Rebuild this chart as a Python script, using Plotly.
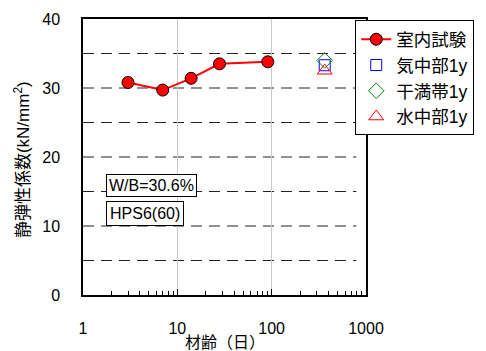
import plotly.graph_objects as go

age_days = [3, 7, 14, 28, 91]
lab_E = [30.8, 29.7, 31.4, 33.5, 33.8]
field_age = [365]
air_E = [33.3]
tidal_E = [34.0]
water_E = [32.5]

FONT = "Liberation Sans, Arial, Noto Sans CJK JP, sans-serif"

fig = go.Figure()
fig.add_trace(go.Scatter(x=age_days, y=lab_E, mode="lines+markers", name="室内試験",
                         line=dict(color="#ff0000", width=2),
                         marker=dict(symbol="circle", size=12, color="#ff0000",
                                     line=dict(color="black", width=1))))
fig.add_trace(go.Scatter(x=field_age, y=air_E, mode="markers", name="気中部1y",
                         marker=dict(symbol="square-open", size=11, color="#0000ff",
                                     line=dict(width=1))))
fig.add_trace(go.Scatter(x=field_age, y=tidal_E, mode="markers", name="干満帯1y",
                         marker=dict(symbol="diamond-open", size=12, color="#008000",
                                     line=dict(width=1))))
fig.add_trace(go.Scatter(x=field_age, y=water_E, mode="markers", name="水中部1y",
                         marker=dict(symbol="triangle-up-open", size=13, color="#ff0000",
                                     line=dict(width=1))))

# dashed horizontal grid lines
for v in [5, 10, 15, 20, 25, 30, 35]:
    fig.add_shape(type="line", xref="paper", yref="y", x0=0, x1=0.966, y0=v, y1=v,
                  line=dict(color="#222222", width=1, dash="11px,7px"), layer="below")

fig.update_layout(
    width=486, height=351,
    margin=dict(l=83, r=110, t=19, b=56),
    paper_bgcolor="white", plot_bgcolor="white",
    font=dict(family=FONT, size=16, color="black"),
    showlegend=True,
    legend=dict(x=0.962, y=0.995, xanchor="left", yanchor="top",
                bordercolor="black", borderwidth=1, bgcolor="white",
                font=dict(size=17.5), tracegroupgap=0, itemsizing="trace"),
    xaxis=dict(type="log", range=[0, 3], showgrid=True, gridcolor="#c8c8c8", gridwidth=1,
               tickvals=[1, 10, 100, 1000], ticktext=["1", "10", "100", "1000"],
               ticks="inside", ticklen=6, tickcolor="black",
               showline=True, linecolor="black", linewidth=1.5, mirror=True,
               zeroline=False, ticklabelstandoff=18, automargin=False,
               minor=dict(ticks="inside", ticklen=4, tickcolor="black", dtick="D1", showgrid=False)),
    yaxis=dict(range=[0, 40], dtick=10, showgrid=False,
               showline=True, linecolor="black", linewidth=1.5, mirror=True,
               zeroline=False, ticks="", ticklabelstandoff=18, automargin=False),
)

fig.add_annotation(xref="paper", yref="paper", x=0.5, y=-0.172, xanchor="center", yanchor="middle",
                   text="材齢（日）", showarrow=False, font=dict(size=16))
fig.add_annotation(xref="paper", yref="paper", x=-0.218, y=0.49, xanchor="center", yanchor="middle",
                   text="静弾性係数(kN/mm<sup>2</sup>)", textangle=-90, showarrow=False,
                   font=dict(size=17))

fig.add_annotation(xref="paper", yref="paper", x=0.08, y=0.395, xanchor="left", yanchor="middle",
                   text="W/B=30.6%", showarrow=False, bordercolor="black", borderwidth=1,
                   borderpad=2, bgcolor="white", font=dict(size=16))
fig.add_annotation(xref="paper", yref="paper", x=0.08, y=0.295, xanchor="left", yanchor="middle",
                   text="HPS6(60)", showarrow=False, bordercolor="black", borderwidth=1,
                   borderpad=3, bgcolor="white", font=dict(size=16))

fig.write_html("out.html")
